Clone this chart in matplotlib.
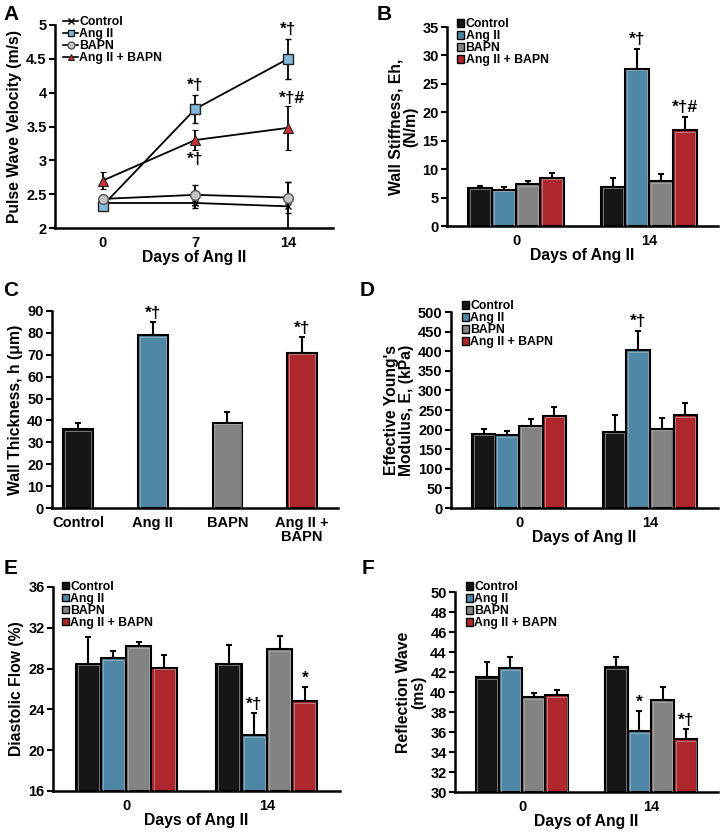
import matplotlib
matplotlib.use("Agg")
import matplotlib.pyplot as plt
import numpy as np
from matplotlib.patches import Patch
from matplotlib.lines import Line2D

plt.rcParams['font.family'] = ['Liberation Sans', 'DejaVu Sans']
plt.rcParams['font.weight'] = 'bold'
plt.rcParams['axes.labelweight'] = 'bold'

groups = ["Control", "Ang II", "BAPN", "Ang II + BAPN"]
bar_colors = ["#161616", "#4f87a6", "#838383", "#ad272d"]
days_bar = ["0", "14"]

# panel A: pulse wave velocity over time
days_a = [0, 7, 14]
pwv_mean = {
    "Control": [2.37, 2.37, 2.32],
    "Ang II": [2.33, 3.76, 4.50],
    "BAPN": [2.43, 2.49, 2.45],
    "Ang II + BAPN": [2.70, 3.30, 3.48],
}
pwv_err = {
    "Control": [0.04, 0.07, 0.36],
    "Ang II": [0.05, 0.21, 0.30],
    "BAPN": [0.06, 0.15, 0.23],
    "Ang II + BAPN": [0.13, 0.15, 0.33],
}

# panel B: wall stiffness (N/m), rows = groups, cols = day 0, day 14
eh_mean = [[6.7, 6.9], [6.4, 27.7], [7.3, 7.9], [8.5, 16.9]]
eh_err = [[0.4, 1.5], [0.5, 3.5], [0.7, 1.2], [0.8, 2.3]]

# panel C: wall thickness (um)
h_labels = ["Control", "Ang II", "BAPN", "Ang II +\nBAPN"]
h_mean = [36, 79, 39, 71]
h_err = [3, 6, 5, 7]

# panel D: effective Young's modulus (kPa)
e_mean = [[190, 195], [185, 402], [210, 202], [235, 237]]
e_err = [[12, 42], [12, 50], [18, 28], [22, 32]]

# panel E: diastolic flow (%)
df_mean = [[28.5, 28.5], [29.0, 21.5], [30.2, 29.9], [28.1, 24.8]]
df_err = [[2.6, 1.8], [0.7, 2.1], [0.4, 1.3], [1.2, 1.4]]

# panel F: reflection wave (ms)
rw_mean = [[41.5, 42.5], [42.4, 36.1], [39.5, 39.2], [39.7, 35.3]]
rw_err = [[1.5, 1.0], [1.1, 2.0], [0.4, 1.3], [0.5, 1.0]]

W, H = 720, 835
TICK = 10.5
LAB = 11.3
LEG = 8.8
SIG = 12.5

fig = plt.figure(figsize=(W / 100, H / 100), dpi=100)


def px_axes(l, t, r, b):
    return fig.add_axes([l / W, 1 - b / H, (r - l) / W, (b - t) / H])


def style(ax):
    for s in ["top", "right"]:
        ax.spines[s].set_visible(False)
    for s in ["left", "bottom"]:
        ax.spines[s].set_linewidth(1.8)
    ax.tick_params(axis="y", direction="out", length=4, width=1.5, labelsize=TICK, pad=2)
    ax.tick_params(axis="x", length=0, labelsize=TICK, pad=6)
    for lab in ax.get_xticklabels() + ax.get_yticklabels():
        lab.set_fontweight("bold")


def bar_legend(ax, x, y):
    handles = [Patch(facecolor=c, edgecolor="black", linewidth=1.0) for c in bar_colors]
    leg = ax.legend(handles, groups, loc="upper left", bbox_to_anchor=(x, y), frameon=False,
                    handlelength=0.6, handleheight=0.6, handletextpad=0.1, labelspacing=0.0,
                    borderpad=0, borderaxespad=0, prop={"weight": "bold", "size": LEG})
    return leg


def grouped_bars(ax, means, errs, ylim, yticks, ylabel):
    width = 0.18
    x = np.arange(len(days_bar))
    for i, g in enumerate(groups):
        xs = x + (i - 1.5) * width
        bottom = ylim[0]
        heights = [m - bottom for m in means[i]]
        ax.bar(xs, heights, width, bottom=bottom, color=bar_colors[i], edgecolor="black",
               linewidth=1.5, zorder=2)
        ax.bar(xs, [hh - (ylim[1] - ylim[0]) * 0.008 for hh in heights], width * 0.84, bottom=bottom,
               color="none", edgecolor="#bcbcbc", linewidth=0.4, zorder=3)
        ax.errorbar(xs, means[i], yerr=[np.zeros(len(xs)), errs[i]], fmt="none", ecolor="black",
                    elinewidth=1.5, capsize=2.5, capthick=1.5, zorder=1)
    ax.set_xlim(-0.52, 1.52)
    ax.set_ylim(*ylim)
    ax.set_yticks(yticks)
    ax.set_xticks(x)
    ax.set_xticklabels(days_bar)
    ax.set_xlabel("Days of Ang II", fontsize=LAB, labelpad=0)
    ax.set_ylabel(ylabel, fontsize=LAB, labelpad=3, linespacing=1.0)
    style(ax)


def mark(ax, xg, gi, means, errs, txt, dy):
    xs = xg + (gi - 1.5) * 0.18
    ax.text(xs, means[gi][xg] + errs[gi][xg] + dy, txt, ha="center", va="bottom",
            fontsize=SIG, fontweight="bold")


# ---- A ----
axA = px_axes(55, 25, 333, 228)
line_styles = {
    "Control": dict(marker="x", mfc="black", mec="black", ms=5, mew=1.0),
    "Ang II": dict(marker="s", mfc="#84b8d8", mec="#222222", ms=7, mew=1.0),
    "BAPN": dict(marker="o", mfc="#c4c4c4", mec="#555555", ms=7, mew=1.0),
    "Ang II + BAPN": dict(marker="^", mfc="#c7323a", mec="#222222", ms=7, mew=0.8),
}
for g in groups:
    axA.errorbar(days_a, pwv_mean[g], yerr=pwv_err[g], color="black", lw=1.3, elinewidth=1.3,
                 capsize=2.5, capthick=1.3, label=g, **line_styles[g])
axA.set_xlim(-3.6, 17.4)
axA.set_ylim(2, 5)
axA.set_yticks([2, 2.5, 3, 3.5, 4, 4.5, 5])
axA.set_yticklabels(["2", "2.5", "3", "3.5", "4", "4.5", "5"])
axA.set_xticks(days_a)
axA.set_xlabel("Days of Ang II", fontsize=LAB, labelpad=0)
axA.set_ylabel("Pulse Wave Velocity (m/s)", fontsize=LAB, labelpad=3)
style(axA)
handlesA = [Line2D([], [], color="black", lw=1.2, **line_styles[g]) for g in groups]
for hnd in handlesA:
    hnd.set_markersize(5)
axA.legend(handlesA, groups, loc="upper left", bbox_to_anchor=(0.03, 1.045), frameon=False,
           handlelength=1.2, handletextpad=0.1, labelspacing=0.0, borderpad=0, borderaxespad=0,
           prop={"weight": "bold", "size": LEG})
axA.text(7, 3.76 + 0.21 + 0.03, "*†", ha="center", va="bottom", fontsize=SIG, fontweight="bold")
axA.text(7, 3.30 - 0.15 - 0.03, "*†", ha="center", va="top", fontsize=SIG, fontweight="bold")
axA.text(14, 4.50 + 0.30 + 0.03, "*†", ha="center", va="bottom", fontsize=SIG, fontweight="bold")
axA.text(14.3, 3.48 + 0.33 + 0.0, "*†#", ha="center", va="bottom", fontsize=SIG, fontweight="bold")

# ---- B ----
axB = px_axes(447, 27, 718, 226)
grouped_bars(axB, eh_mean, eh_err, (0, 35), range(0, 36, 5), "Wall Stiffness, Eh,\n(N/m)")
bar_legend(axB, 0.037, 1.045)
mark(axB, 1, 1, eh_mean, eh_err, "*†", 0.3)
mark(axB, 1, 3, eh_mean, eh_err, "*†#", 0.3)

# ---- C ----
axC = px_axes(52, 311, 338, 508)
xc = np.arange(len(h_mean))
axC.bar(xc, h_mean, 0.4, color=bar_colors, edgecolor="black", linewidth=1.5, zorder=2)
axC.bar(xc, [m - 0.8 for m in h_mean], 0.35, color="none", edgecolor="#bcbcbc", linewidth=0.4, zorder=3)
axC.errorbar(xc, h_mean, yerr=[np.zeros(len(xc)), h_err], fmt="none", ecolor="black",
             elinewidth=1.5, capsize=2.5, capthick=1.5, zorder=1)
axC.set_xlim(-0.35, 3.48)
axC.set_ylim(0, 90)
axC.set_yticks(range(0, 91, 10))
axC.set_xticks(xc)
axC.set_xticklabels(h_labels, linespacing=1.0)
axC.set_ylabel("Wall Thickness, h (μm)", fontsize=LAB, labelpad=3)
style(axC)
axC.text(1, 79 + 6 + 0.5, "*†", ha="center", va="bottom", fontsize=SIG, fontweight="bold")
axC.text(3, 71 + 7 + 0.5, "*†", ha="center", va="bottom", fontsize=SIG, fontweight="bold")

# ---- D ----
axD = px_axes(451, 312, 718, 508)
grouped_bars(axD, e_mean, e_err, (0, 500), range(0, 501, 50), "Effective Young's\nModulus, E, (kPa)")
bar_legend(axD, 0.04, 1.06)
mark(axD, 1, 1, e_mean, e_err, "*†", 4)

# ---- E ----
axE = px_axes(53, 587, 340, 791)
grouped_bars(axE, df_mean, df_err, (16, 36), range(16, 37, 4), "Diastolic Flow (%)")
bar_legend(axE, 0.03, 1.03)
mark(axE, 1, 1, df_mean, df_err, "*†", 0.1)
mark(axE, 1, 3, df_mean, df_err, "*", 0.1)

# ---- F ----
axF = px_axes(455, 592, 718, 792)
grouped_bars(axF, rw_mean, rw_err, (30, 50), range(30, 51, 2), "Reflection Wave\n(ms)")
bar_legend(axF, 0.04, 1.055)
mark(axF, 1, 1, rw_mean, rw_err, "*", 0.1)
mark(axF, 1, 3, rw_mean, rw_err, "*†", 0.1)

# panel letters
for letter, (x, y) in zip("ABCDEF", [(11, 15), (384, 15), (11, 291), (367, 291), (11, 569), (368, 569)]):
    fig.text(x / W, 1 - y / H, letter, fontsize=15, fontweight="bold", ha="center", va="center")

fig.savefig("out.png", dpi=100)
